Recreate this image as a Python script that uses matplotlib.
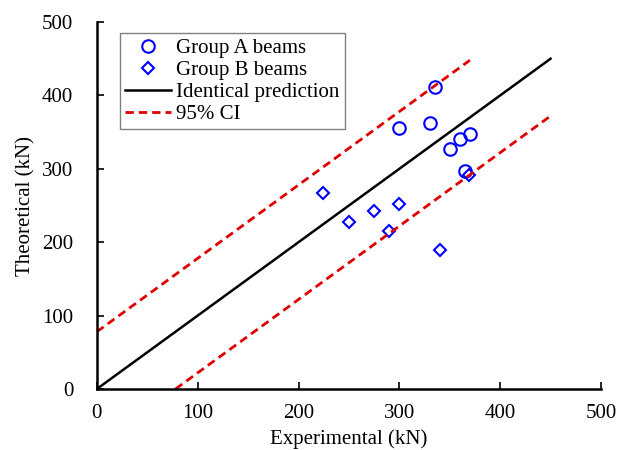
import matplotlib
matplotlib.use('Agg')
import matplotlib.pyplot as plt

# ------------------------------------------------------------------
# data
group_a_exp = [335, 300, 330, 350, 360, 370, 365]
group_a_theo = [412, 355, 362, 327, 340, 347, 297]

group_b_exp = [224, 250, 275, 300, 290, 369, 340]
group_b_theo = [267, 228, 242, 252, 215, 291, 189]

ident_x = [0, 450]
ident_y = [0, 450]
ci_upper_x = [0, 370]
ci_upper_y = [78, 448]
ci_lower_x = [78, 450]
ci_lower_y = [0, 372]

ticks = [0, 100, 200, 300, 400, 500]

# ------------------------------------------------------------------
plt.rcParams['font.family'] = ['Liberation Serif', 'DejaVu Serif']
plt.rcParams['font.size'] = 15

fig = plt.figure(figsize=(6.17, 4.5), dpi=100)
ax = fig.add_axes([0.157, 0.1356, 0.817, 0.8154])

ax.plot(group_a_exp, group_a_theo, 'o', mfc='none', mec='#0000ff',
        mew=1.5, ms=9, label='Group A beams')
ax.plot(group_b_exp, group_b_theo, 'D', mfc='none', mec='#0000ff',
        mew=1.5, ms=6.5, label='Group B beams')
ax.plot(ident_x, ident_y, '-', color='black', lw=1.8,
        label='Identical prediction')
ax.plot(ci_upper_x, ci_upper_y, '--', color='#e00000', lw=2.0,
        dashes=(3, 1.8), label='95% CI')
ax.plot(ci_lower_x, ci_lower_y, '--', color='#e00000', lw=2.0,
        dashes=(3, 1.8))

ax.set_xlim(0, 500)
ax.set_ylim(0, 500)
ax.set_xticks(ticks)
ax.set_yticks(ticks)
ax.tick_params(direction='in', length=5, width=1.2)
ax.tick_params(axis='x', pad=11)
ax.tick_params(axis='y', pad=17)
for s in ['top', 'right']:
    ax.spines[s].set_visible(False)
for s in ['left', 'bottom']:
    ax.spines[s].set_linewidth(1.8)

ax.set_xlabel('Experimental (kN)', labelpad=4)
ax.set_ylabel('Theoretical (kN)', labelpad=5)

leg = ax.legend(loc='upper left', bbox_to_anchor=(0.046, 0.97),
                fancybox=False, edgecolor='#808080', framealpha=1,
                borderpad=0.25, labelspacing=0.12, handlelength=2.2,
                handletextpad=0.25, borderaxespad=0)
leg.get_frame().set_linewidth(1.0)

plt.savefig('out.png', dpi=100)
